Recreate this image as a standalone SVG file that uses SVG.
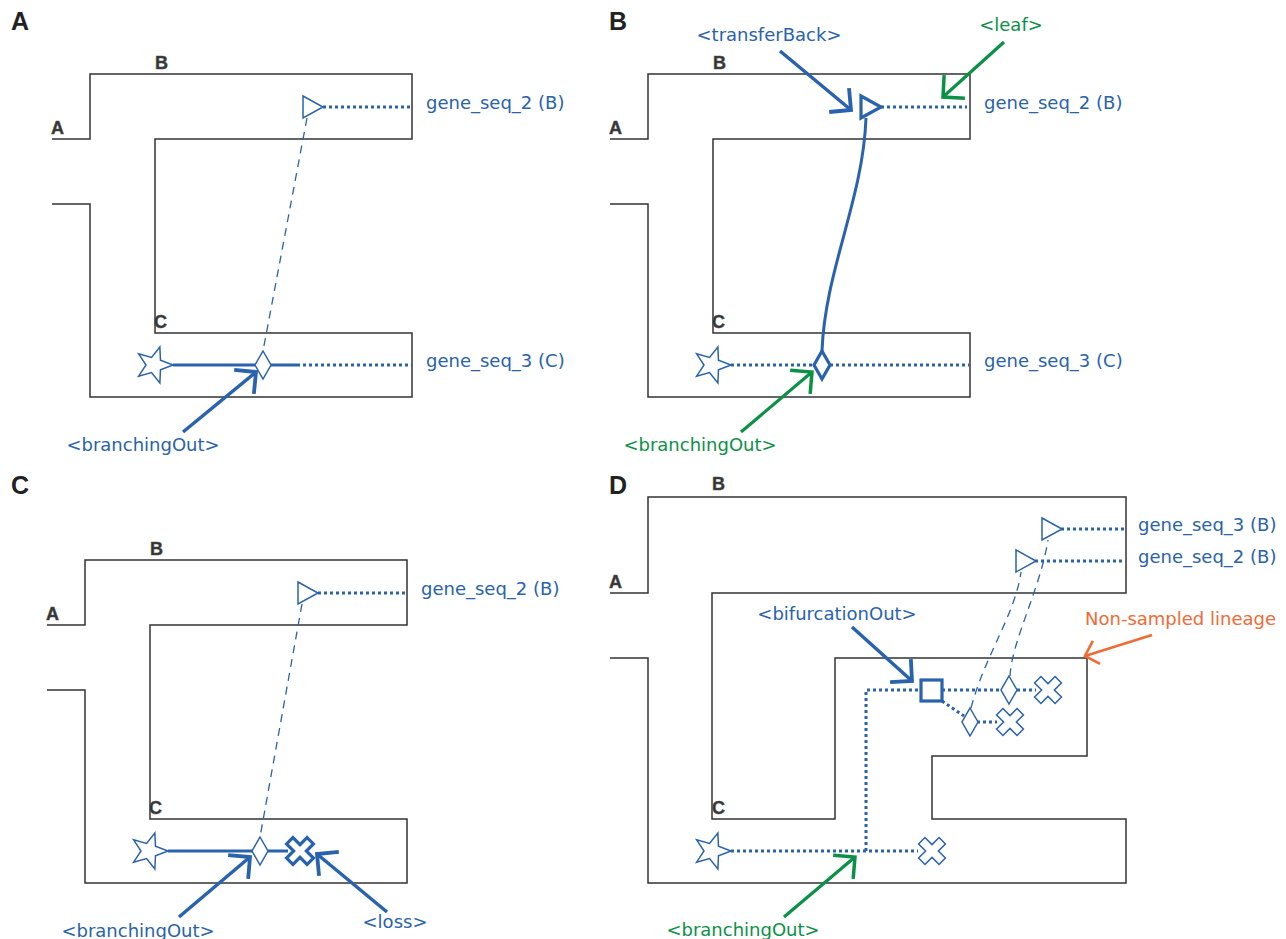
<svg xmlns="http://www.w3.org/2000/svg" xmlns:xlink="http://www.w3.org/1999/xlink" width="1286" height="939" viewBox="0 0 1286 939">
<style>
.bg{fill:#fff}
.tube{fill:none;stroke:#333;stroke-width:1.5}
.pl{font-family:"Liberation Sans",Arial,sans-serif;font-weight:bold;font-size:25px;fill:#222}
.sp{font-family:"Liberation Sans",Arial,sans-serif;font-weight:bold;font-size:18px;fill:#333;stroke:#555;stroke-width:0.5}
.lb{font-family:"DejaVu Sans",sans-serif;font-size:18px;fill:#2962ad}
.lg{font-family:"DejaVu Sans",sans-serif;font-size:18px;fill:#0a9146}
.lo{font-family:"DejaVu Sans",sans-serif;font-size:18px;fill:#f26a35}
.sym{fill:#fff;stroke:#2962ad;stroke-width:1.5;stroke-linejoin:miter}
.symT{fill:#fff;stroke:#2962ad;stroke-width:3.2;stroke-linejoin:miter}
.solid{fill:none;stroke:#2962ad;stroke-width:3}
.dot{fill:none;stroke:#2962ad;stroke-width:3;stroke-dasharray:3 3}
.dash{fill:none;stroke:#2962ad;stroke-width:1.3;stroke-dasharray:8 6}
.arB{fill:none;stroke:#2962ad;stroke-width:3.5;marker-end:url(#hB)}
.arG{fill:none;stroke:#0a9146;stroke-width:3.2;marker-end:url(#hG)}
.arO{fill:none;stroke:#f26a35;stroke-width:2.5;marker-end:url(#hO)}
</style>
<defs>
<marker id="hB" viewBox="-22 -22 28 44" refX="0" refY="0" markerWidth="28" markerHeight="44" markerUnits="userSpaceOnUse" orient="auto"><path d="M-15.5,-15.5 L0,0 L-15.5,15.5" fill="none" stroke="#2962ad" stroke-width="3.8"/></marker>
<marker id="hG" viewBox="-22 -22 28 44" refX="0" refY="0" markerWidth="28" markerHeight="44" markerUnits="userSpaceOnUse" orient="auto"><path d="M-15.5,-15.5 L0,0 L-15.5,15.5" fill="none" stroke="#0a9146" stroke-width="3.5"/></marker>
<marker id="hO" viewBox="-18 -18 24 36" refX="0" refY="0" markerWidth="24" markerHeight="36" markerUnits="userSpaceOnUse" orient="auto"><path d="M-12,-12 L0,0 L-12,12" fill="none" stroke="#f26a35" stroke-width="2.6"/></marker>
<path id="star" d="M19,0 L6.47,4.70 L5.87,18.07 L-2.47,7.61 L-15.37,11.17 L-8,0 L-15.37,-11.17 L-2.47,-7.61 L5.87,-18.07 L6.47,-4.70 Z"/>
<path id="dia" d="M0,-14 L8,0 L0,14 L-8,0 Z"/>
<path id="tri" d="M0,-11 L20,0 L0,11 Z"/>
<path id="cross" d="M-4.5,-14.5 H4.5 V-4.5 H14.5 V4.5 H4.5 V14.5 H-4.5 V4.5 H-14.5 V-4.5 H-4.5 Z" transform="rotate(45)"/>
<path id="tubeABC" d="M52,139 H90 V74 H412 V139 H155 V333 H412 V397 H90 V204 H52"/>
</defs>
<rect class="bg" x="0" y="0" width="1286" height="939"/>

<g id="species-trees">
<use href="#tubeABC" class="tube"/>
<use href="#tubeABC" class="tube" x="558" y="0"/>
<use href="#tubeABC" class="tube" x="-5" y="486"/>
<path class="tube" d="M610,593 H648 V497 H1126 V593 H712 V819 H835 V658 H1087 V756 H932 V819 H1126 V883 H648 V658 H610"/>
</g>

<g id="panel-labels">
<text class="pl" x="11" y="30">A</text>
<text class="pl" x="609" y="30">B</text>
<text class="pl" x="11" y="494">C</text>
<text class="pl" x="609" y="494">D</text>
</g>

<g id="species-labels">
<text class="sp" x="51" y="134">A</text><text class="sp" x="155" y="69">B</text><text class="sp" x="154" y="328">C</text>
<text class="sp" x="609" y="134">A</text><text class="sp" x="713" y="69">B</text><text class="sp" x="712" y="328">C</text>
<text class="sp" x="46" y="620">A</text><text class="sp" x="150" y="555">B</text><text class="sp" x="149" y="814">C</text>
<text class="sp" x="609" y="588">A</text><text class="sp" x="712" y="490">B</text><text class="sp" x="712" y="814">C</text>
</g>

<g id="connectors">
<!-- panel A -->
<path class="solid" d="M173,365 H255 M271,365 H297"/>
<path class="dot" d="M297,365 H412"/>
<path class="dot" d="M323,107 H411"/>
<path class="dash" d="M307,118 L263,351"/>
<path class="arB" d="M183,432 L256,372"/>
<!-- panel B -->
<path class="dot" d="M731,365 H814 M830,365 H969"/>
<path class="dot" d="M881,107 H967"/>
<path class="solid" d="M866,118 C863,200 825,270 822,351"/>
<path class="arB" d="M780,51 L851,110"/>
<path class="arG" d="M1004,42 L943,97"/>
<path class="arG" d="M741,432 L812,372"/>
<!-- panel C -->
<path class="solid" d="M168,851 H252 M268,851 H288"/>
<path class="dot" d="M318,593 H406"/>
<path class="dash" d="M302,604 L260,837"/>
<path class="arB" d="M179,917 L250,857"/>
<path class="arB" d="M387,912 L317,854"/>
<!-- panel D -->
<path class="dot" d="M731,851 H918"/>
<path class="dot" d="M866,851 V690 H921"/>
<path class="dot" d="M942,690 H1001 M1017,690 H1036"/>
<path class="dot" d="M942,701 L964,716"/>
<path class="dot" d="M977,722 H997"/>
<path class="dot" d="M1061,529 H1124"/>
<path class="dot" d="M1035,561 H1124"/>
<path class="dash" d="M971,708 C985,655 1015,615 1021,572"/>
<path class="dash" d="M1010,676 C1012,640 1040,590 1048,540"/>
<path class="arB" d="M852,627 L912,681"/>
<path class="arO" d="M1152,635 L1085,656"/>
<path class="arG" d="M784,917 L855,857"/>
</g>

<g id="panelA-nodes">
<use href="#star" class="sym" x="154" y="365"/>
<use href="#dia" class="sym" x="263" y="365"/>
<use href="#tri" class="sym" x="303" y="107"/>
</g>
<g id="panelB-nodes">
<use href="#star" class="sym" x="712" y="365"/>
<use href="#dia" class="symT" x="822" y="365"/>
<use href="#tri" class="symT" x="861" y="107"/>
</g>
<g id="panelC-nodes">
<use href="#star" class="sym" x="149" y="851"/>
<use href="#dia" class="sym" x="260" y="851"/>
<use href="#cross" class="symT" x="300" y="851"/>
<use href="#tri" class="sym" x="298" y="593"/>
</g>
<g id="panelD-nodes">
<use href="#star" class="sym" x="712" y="851"/>
<use href="#cross" class="sym" x="932" y="851"/>
<rect class="symT" x="921" y="680" width="21" height="21"/>
<use href="#dia" class="sym" x="1009" y="690"/>
<use href="#cross" class="sym" x="1048" y="690"/>
<use href="#dia" class="sym" x="970" y="722"/>
<use href="#cross" class="sym" x="1010" y="722"/>
<use href="#tri" class="sym" x="1042" y="529"/>
<use href="#tri" class="sym" x="1016" y="561"/>
</g>

<g id="texts">
<text class="lb" x="426" y="109">gene_seq_2 (B)</text>
<text class="lb" x="426" y="367">gene_seq_3 (C)</text>
<text class="lb" x="143" y="451" text-anchor="middle">&lt;branchingOut&gt;</text>
<text class="lb" x="984" y="109">gene_seq_2 (B)</text>
<text class="lb" x="984" y="367">gene_seq_3 (C)</text>
<text class="lb" x="769" y="41" text-anchor="middle">&lt;transferBack&gt;</text>
<text class="lg" x="1011" y="31" text-anchor="middle">&lt;leaf&gt;</text>
<text class="lg" x="700" y="451" text-anchor="middle">&lt;branchingOut&gt;</text>
<text class="lb" x="421" y="595">gene_seq_2 (B)</text>
<text class="lb" x="138" y="937" text-anchor="middle">&lt;branchingOut&gt;</text>
<text class="lb" x="395" y="928" text-anchor="middle">&lt;loss&gt;</text>
<text class="lb" x="1138" y="531">gene_seq_3 (B)</text>
<text class="lb" x="1138" y="563">gene_seq_2 (B)</text>
<text class="lb" x="837" y="620" text-anchor="middle">&lt;bifurcationOut&gt;</text>
<text class="lo" x="1085" y="625">Non-sampled lineage</text>
<text class="lg" x="743" y="936" text-anchor="middle">&lt;branchingOut&gt;</text>
</g>
</svg>
